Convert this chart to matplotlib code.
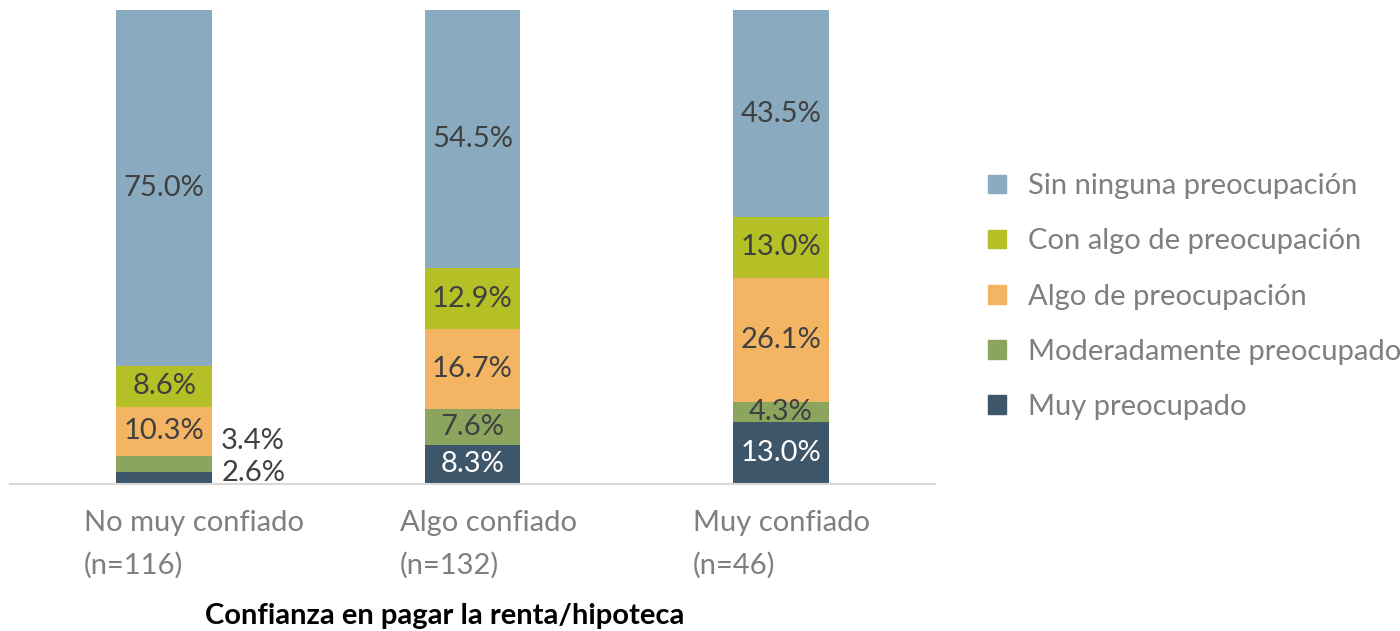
import numpy as np
import matplotlib.pyplot as plt
from matplotlib.patches import Patch

plt.rcParams['font.family'] = ['Lato', 'DejaVu Sans']

# data
groups = ['No muy confiado\n(n=116)', 'Algo confiado\n(n=132)', 'Muy confiado\n(n=46)']
series = ['Muy preocupado', 'Moderadamente preocupado', 'Algo de preocupación',
          'Con algo de preocupación', 'Sin ninguna preocupación']
muy = [2.6, 8.3, 13.0]
moderado = [3.4, 7.6, 4.3]
algo = [10.3, 16.7, 26.1]
con_algo = [8.6, 12.9, 13.0]
sin = [75.0, 54.5, 43.5]
colors = ['#3E5669', '#8BA55E', '#F3B564', '#B5BF26', '#8AABBF']

values = [muy, moderado, algo, con_algo, sin]

fig = plt.figure(figsize=(14, 6.31), dpi=100)
ax = fig.add_axes([10 / 1400, 1 - 484 / 631, 925 / 1400, 474 / 631])

x = np.arange(len(groups))
width = 0.31
bottom = np.zeros(len(groups))
for vals, col, name in zip(values, colors, series):
    vals = np.array(vals)
    ax.bar(x, vals, width, bottom=bottom, color=col, label=name)
    for i, v in enumerate(vals):
        yc = bottom[i] + v / 2
        txt = '%.1f%%' % v
        if v < 4:
            # small segments on first bar: labels sit outside, to the right
            ytxt = 9.0 if name == 'Moderadamente preocupado' else 2.4
            ax.text(x[i] + width / 2 + 0.03, ytxt, txt, ha='left', va='center',
                    fontsize=21, color='#404040')
        else:
            c = 'white' if name == 'Muy preocupado' else '#404040'
            ax.text(x[i], yc, txt, ha='center', va='center', fontsize=21, color=c)
    bottom += vals

ax.set_xlim(-0.5, 2.5)
ax.set_ylim(0, 100)
for s in ['top', 'right', 'left']:
    ax.spines[s].set_visible(False)
ax.spines['bottom'].set_color('#D9D9D9')
ax.spines['bottom'].set_linewidth(1.5)
ax.set_yticks([])
ax.set_xticks([])

# category labels, left aligned like the original
offsets = [-0.26, -0.235, -0.285]
for i, g in enumerate(groups):
    ax.text(x[i] + offsets[i], -5.5, g, ha='left', va='top', fontsize=21,
            color='#7F7F7F', linespacing=1.7)

fig.text(445 / 1400, 1 - 616 / 631, 'Confianza en pagar la renta/hipoteca',
         ha='center', va='center', fontsize=21, fontweight='bold', color='black')

handles = [Patch(color=c, label=n) for c, n in zip(colors, series)][::-1]
fig.legend(handles=handles, loc='upper left', bbox_to_anchor=(962 / 1400, 1 - 147 / 631),
           frameon=False, fontsize=21, labelcolor='#7F7F7F', handlelength=0.6,
           handleheight=0.6, handletextpad=0.75, labelspacing=1.0)

fig.savefig('out.png', dpi=100)
